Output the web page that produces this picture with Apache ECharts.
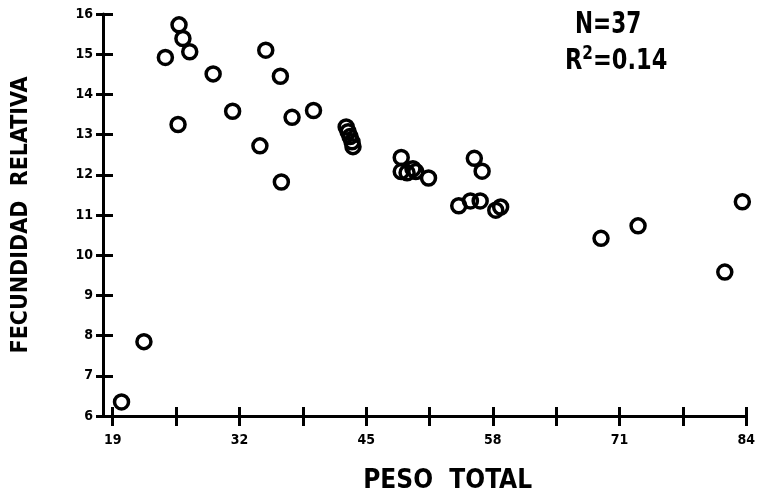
<!DOCTYPE html>
<html>
<head>
<meta charset="utf-8">
<script src="https://cdn.jsdelivr.net/npm/echarts@6/dist/echarts.min.js"></script>
<style>
  html, body { margin: 0; padding: 0; background: #fff; }
  #chart { width: 758px; height: 499px; }
</style>
</head>
<body>
<div id="chart"></div>
<script>
// Total weight vs. relative fecundity, one entry per fish
const pesoTotal = [
  19.9, 22.2, 24.4, 25.8, 26.2, 26.9, 29.3, 25.7, 31.3, 34.7,
  36.2, 37.4, 39.6, 34.1, 36.3, 42.95, 43.15, 43.35, 43.55, 43.65,
  48.6, 48.6, 49.2, 49.8, 50.1, 51.4, 56.1, 56.9, 54.5, 55.7,
  56.7, 58.3, 58.8, 69.1, 72.9, 83.6, 81.8
];
const fecundidad = [
  6.35, 7.85, 14.92, 15.73, 15.39, 15.06, 14.51, 13.25, 13.58, 15.10,
  14.45, 13.43, 13.60, 12.72, 11.82, 13.19, 13.07, 12.95, 12.82, 12.70,
  12.43, 12.08, 12.05, 12.15, 12.08, 11.92, 12.41, 12.09, 11.23, 11.35,
  11.35, 11.12, 11.20, 10.42, 10.73, 11.33, 9.58
];
const xTicks = [19, 25.5, 32, 38.5, 45, 51.5, 58, 64.5, 71, 77.5, 84];
const xLabels = [19, 32, 45, 58, 71, 84];
const nLabel = 'N=37';
const r2Value = '0.14';

const FONT = '"DejaVu Sans Condensed", "DejaVu Sans", sans-serif';
const points = pesoTotal.map((x, i) => [x, fecundidad[i]]);

const chart = echarts.init(document.getElementById('chart'), null, { renderer: 'canvas' });

const axisLine = { show: true, onZero: false, lineStyle: { color: '#000', width: 3 } };

chart.setOption({
  backgroundColor: '#fff',
  animation: false,
  grid: { left: 103, right: 9, top: 14, bottom: 75 },
  xAxis: [
    {
      type: 'value', min: 18, max: 84,
      axisLine: axisLine,
      axisTick: { show: true, length: 10, customValues: xTicks, lineStyle: { color: '#000', width: 3 } },
      axisLabel: { customValues: xLabels, margin: 17, color: '#000', fontFamily: FONT, fontWeight: 'bold', fontSize: 14 },
      splitLine: { show: false },
      name: 'PESO  TOTAL', nameLocation: 'middle', nameGap: 52,
      nameTextStyle: { color: '#000', fontFamily: FONT, fontWeight: 'bold', fontSize: 26, padding: [0, 0, 0, 46] }
    },
    {
      // upper half of the crossing tick marks
      type: 'value', min: 18, max: 84, position: 'bottom', offset: 0,
      axisLine: { show: false },
      axisTick: { show: true, inside: true, length: 9, customValues: xTicks, lineStyle: { color: '#000', width: 3 } },
      axisLabel: { show: false },
      splitLine: { show: false }
    }
  ],
  yAxis: [
    {
      type: 'value', min: 6, max: 16, interval: 1,
      axisLine: axisLine,
      axisTick: { show: true, length: 7, lineStyle: { color: '#000', width: 3 } },
      axisLabel: { margin: 10, color: '#000', fontFamily: FONT, fontWeight: 'bold', fontSize: 14 },
      splitLine: { show: false },
      name: 'FECUNDIDAD  RELATIVA', nameLocation: 'middle', nameGap: 70, nameRotate: 90,
      nameTextStyle: { color: '#000', fontFamily: FONT, fontWeight: 'bold', fontSize: 23 }
    },
    {
      // right half of the crossing tick marks
      type: 'value', min: 6, max: 16, interval: 1, position: 'left', offset: 0,
      axisLine: { show: false },
      axisTick: { show: true, inside: true, length: 10, lineStyle: { color: '#000', width: 3 } },
      axisLabel: { show: false },
      splitLine: { show: false }
    }
  ],
  series: [{
    type: 'scatter',
    data: points,
    symbol: 'circle',
    symbolSize: 14,
    itemStyle: { color: 'rgba(0,0,0,0)', borderColor: '#000', borderWidth: 3.5, opacity: 1 }
  }],
  graphic: [
    {
      type: 'text', left: 575, top: 10, scaleY: 1.25,
      style: { text: nLabel, fill: '#000', font: 'bold 24px ' + FONT }
    },
    {
      type: 'text', left: 565, top: 44, scaleY: 1.15,
      style: {
        text: '{r|R}{s|2}{r|=' + r2Value + '}',
        rich: {
          r: { fill: '#000', font: 'bold 25px ' + FONT, verticalAlign: 'bottom', lineHeight: 28 },
          s: { fill: '#000', font: 'bold 17px ' + FONT, verticalAlign: 'top', lineHeight: 28, padding: [0, 0, 10, 0] }
        }
      }
    }
  ]
});
</script>
</body>
</html>
